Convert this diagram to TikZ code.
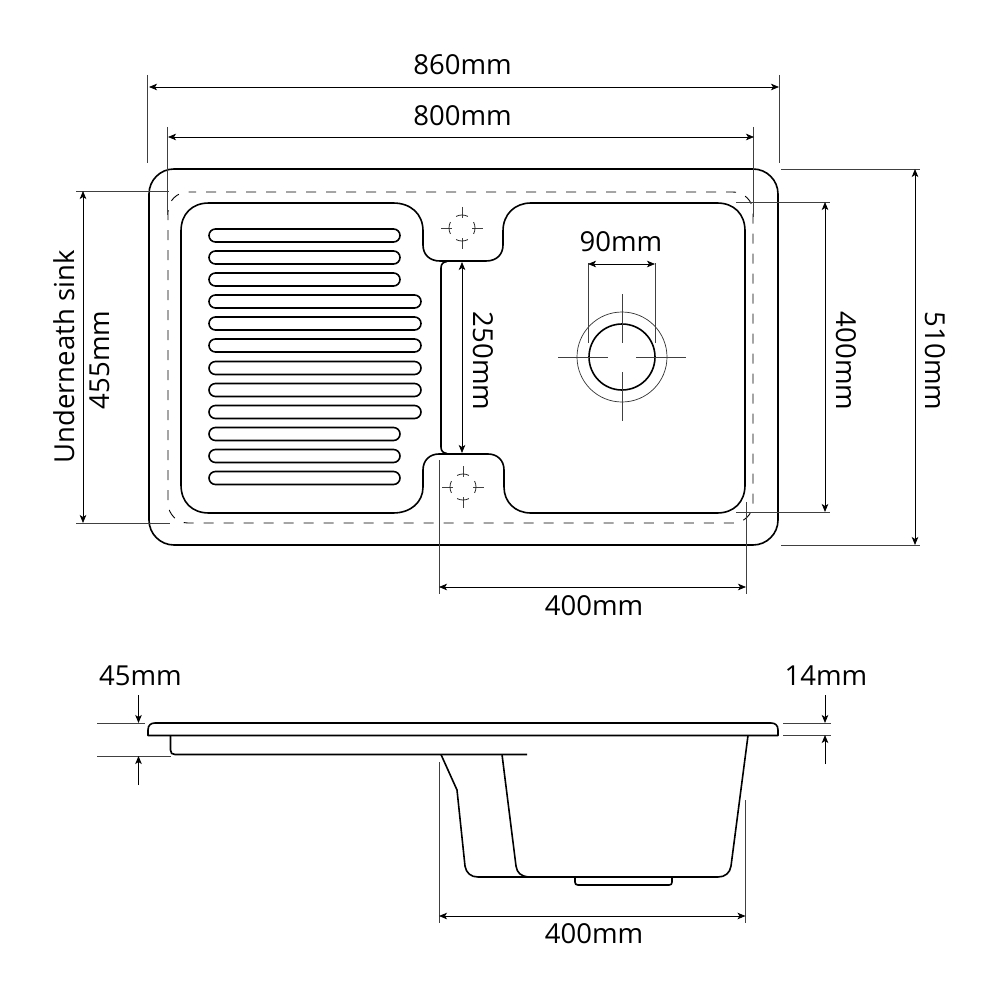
\documentclass[tikz,border=0pt]{standalone}
\usepackage{fontspec}
\setmainfont{Open Sans}
\usetikzlibrary{arrows.meta}
\tikzset{
  x=1pt,y=-1pt,
  outline/.style={line width=1.6pt,black,line join=round},
  thin line/.style={line width=0.7pt,black!75},
  dim/.style={line width=0.8pt,black,{Stealth[length=8pt,width=6.5pt,inset=2pt]}-{Stealth[length=8pt,width=6.5pt,inset=2pt]}},
  lead/.style={line width=0.8pt,black,-{Stealth[length=8pt,width=6.5pt,inset=2pt]}},
  cut/.style={line width=0.9pt,black,dash pattern=on 10pt off 10pt},
  lab/.style={font=\fontsize{27.5}{30}\selectfont,inner sep=0pt,black},
}
\newcommand{\slotbar}[3]{\draw[outline,rounded corners=6.5pt] (209,#1) rectangle (#2,#1+#3);}
\newcommand{\taphole}[2]{%
  \draw[thin line] (#1-21,#2)--(#1-10,#2) (#1+10,#2)--(#1+21,#2) (#1,#2-21)--(#1,#2-10) (#1,#2+10)--(#1,#2+21);
  \foreach \aa in {0,90,180,270}{\draw[line width=0.8pt,black!85] ({#1+13*cos(\aa-27)},{#2-13*sin(\aa-27)}) arc[start angle=\aa-27,end angle=\aa+27,x radius=13,y radius=-13];}}
\begin{document}
\begin{tikzpicture}
\useasboundingbox (0,0) rectangle (1000,1000);
% outer rim
\draw[outline] (174,169) -- (753,169) arc[start angle=90,end angle=0,x radius=25,y radius=-25] -- (778,520) arc[start angle=0,end angle=-90,x radius=25,y radius=-25] -- (174,545) arc[start angle=-90,end angle=-180,x radius=25,y radius=-25] -- (149,194) arc[start angle=180,end angle=90,x radius=25,y radius=-25] -- cycle;
% cut-out line
\draw[cut,dash phase=4pt] (190,192) -- (733,192) arc[start angle=90,end angle=0,x radius=20,y radius=-20] -- (753,503) arc[start angle=0,end angle=-90,x radius=20,y radius=-20] -- (188,523) arc[start angle=-90,end angle=-180,x radius=20,y radius=-20] -- (168,212) arc[start angle=180,end angle=90,x radius=20,y radius=-20] -- cycle;
% bowl and drainer outline
\draw[outline] (209,203) -- (393,203)
  .. controls (411,203) and (423,214) .. (423,231)
  -- (423,245) .. controls (423,255) and (430,261) .. (440,261)
  -- (486,261) .. controls (497,261) and (503,254) .. (503,245)
  -- (503,231) .. controls (503,214) and (515,203) .. (531,203)
  -- (717,203) .. controls (734,203) and (745,214) .. (745,231)
  -- (745,485) .. controls (745,502) and (734,513) .. (717,513)
  -- (531,513) .. controls (515,513) and (504,502) .. (504,487)
  -- (504,470) .. controls (504,460) and (497,454) .. (488,454)
  -- (439,454) .. controls (430,454) and (423,460) .. (423,470)
  -- (423,487) .. controls (423,502) and (411,513) .. (393,513)
  -- (209,513) .. controls (192,513) and (181,502) .. (181,485)
  -- (181,231) .. controls (181,214) and (192,203) .. (209,203) -- cycle;
\draw[outline] (447,261.5) .. controls (443,262) and (441,264) .. (441,268) -- (441,447) .. controls (441,451) and (443,453) .. (447,453.5);
% slots
\foreach \yy/\xe in {229/400,251/400,273/400,295/421,317/421,339/421,361.5/421,383.5/421,405.5/421,427.5/400,449.5/400,471.5/400}
  {\slotbar{\yy}{\xe}{13}}
% tap holes
\taphole{462}{228}
\taphole{463}{487}
% waste
\draw[outline] (622,357) circle (33);
\draw[line width=0.7pt,black!80] (622,357) circle (45);
\draw[thin line] (558,357)--(608,357) (636,357)--(686,357) (622,294)--(622,343) (622,372)--(622,421);
% 860
\coordinate (a1) at (149,87); \coordinate (a2) at (779,87);
\draw[thin line] (147.5,75)--(147.5,163) (779,75)--(779,163);
\draw[dim] (a1)--(a2);
\node[lab] (t860) at (462.5,65) {860mm};
% 800
\coordinate (b1) at (168,137); \coordinate (b2) at (754,137);
\draw[thin line] (167.5,127)--(167.5,215) (753.5,127)--(753.5,217);
\draw[dim] (b1)--(b2);
\node[lab] (t800) at (462.5,116) {800mm};
% 90
\coordinate (c1) at (588,264); \coordinate (c2) at (655,264);
\draw[thin line] (588,263)--(588,343) (655,263)--(655,343);
\draw[dim] (c1)--(c2);
\node[lab] (t90) at (621,242) {90mm};
% 455
\coordinate (d1) at (83,191); \coordinate (d2) at (83,523);
\draw[thin line] (76,191)--(169,191) (76,523)--(170,523);
\draw[dim] (d1)--(d2);
\node[lab,rotate=90] (tu) at (64,357) {Underneath sink};
\node[lab,rotate=90] (t455) at (100,360) {455mm};
% 510
\coordinate (e1) at (915,169); \coordinate (e2) at (915,545);
\draw[thin line] (781,169)--(920,169) (781,545)--(920,545);
\draw[dim] (e1)--(e2);
\node[lab,rotate=-90] (t510) at (935,361) {510mm};
% 400 right
\coordinate (f1) at (825,202); \coordinate (f2) at (825,512);
\draw[thin line] (736,202)--(830,202) (736,512)--(830,512);
\draw[dim] (f1)--(f2);
\node[lab,rotate=-90] (t400r) at (846,361) {400mm};
% 250
\coordinate (g1) at (462,262); \coordinate (g2) at (462,453);
\draw[dim] (g1)--(g2);
\node[lab,rotate=-90] (t250) at (483,361) {250mm};
% 400 bottom
\coordinate (h1) at (439,587); \coordinate (h2) at (746,587);
\draw[thin line] (439,460)--(439,594) (746,502)--(746,594);
\draw[dim] (h1)--(h2);
\node[lab] (t400b) at (594,606) {400mm};
% side view
\draw[outline] (148,735.5) -- (148,730) .. controls (148,725) and (151,723) .. (155,723) -- (771,723) .. controls (775,723) and (778,725) .. (778,730) -- (778,735.5) -- cycle;
\draw[outline] (170.5,735.5) -- (170.5,750) .. controls (170.5,753) and (172,754.5) .. (175,754.5) -- (527,754.5);
\draw[outline] (441,754.5) -- (457,790) -- (465,866) .. controls (466,873) and (471,877) .. (478,877) -- (718,877) .. controls (725,877) and (730,873) .. (731,866) -- (748,735.5);
\draw[outline] (502,754.5) -- (516,866) .. controls (517,873) and (521,876) .. (528,877);
\draw[outline] (575,877) -- (575,882) .. controls (575,884) and (576,885) .. (578,885) -- (669,885) .. controls (671,885) and (672,884) .. (672,882) -- (672,877);
% 45
\coordinate (i0) at (138.5,695); \coordinate (i1) at (138.5,723);
\coordinate (i2) at (138.5,785); \coordinate (i3) at (138.5,756);
\draw[thin line] (97,723)--(145,723) (97,756.5)--(171,756.5);
\draw[lead] (i0)--(i1);
\draw[lead] (i2)--(i3);
\node[lab] (t45) at (140.5,676) {45mm};
% 14
\coordinate (j0) at (825,695); \coordinate (j1) at (825,723);
\coordinate (j2) at (825,764); \coordinate (j3) at (825,735);
\draw[thin line] (783,723)--(831,723) (783,735)--(831,735);
\draw[lead] (j0)--(j1);
\draw[lead] (j2)--(j3);
\node[lab] (t14) at (826,676) {14mm};
% 400 lower
\coordinate (k1) at (439,916); \coordinate (k2) at (745.5,916);
\draw[thin line] (439,762)--(439,923) (745.5,800)--(745.5,923);
\draw[dim] (k1)--(k2);
\node[lab] (t400c) at (594,934) {400mm};
\end{tikzpicture}
\end{document}
